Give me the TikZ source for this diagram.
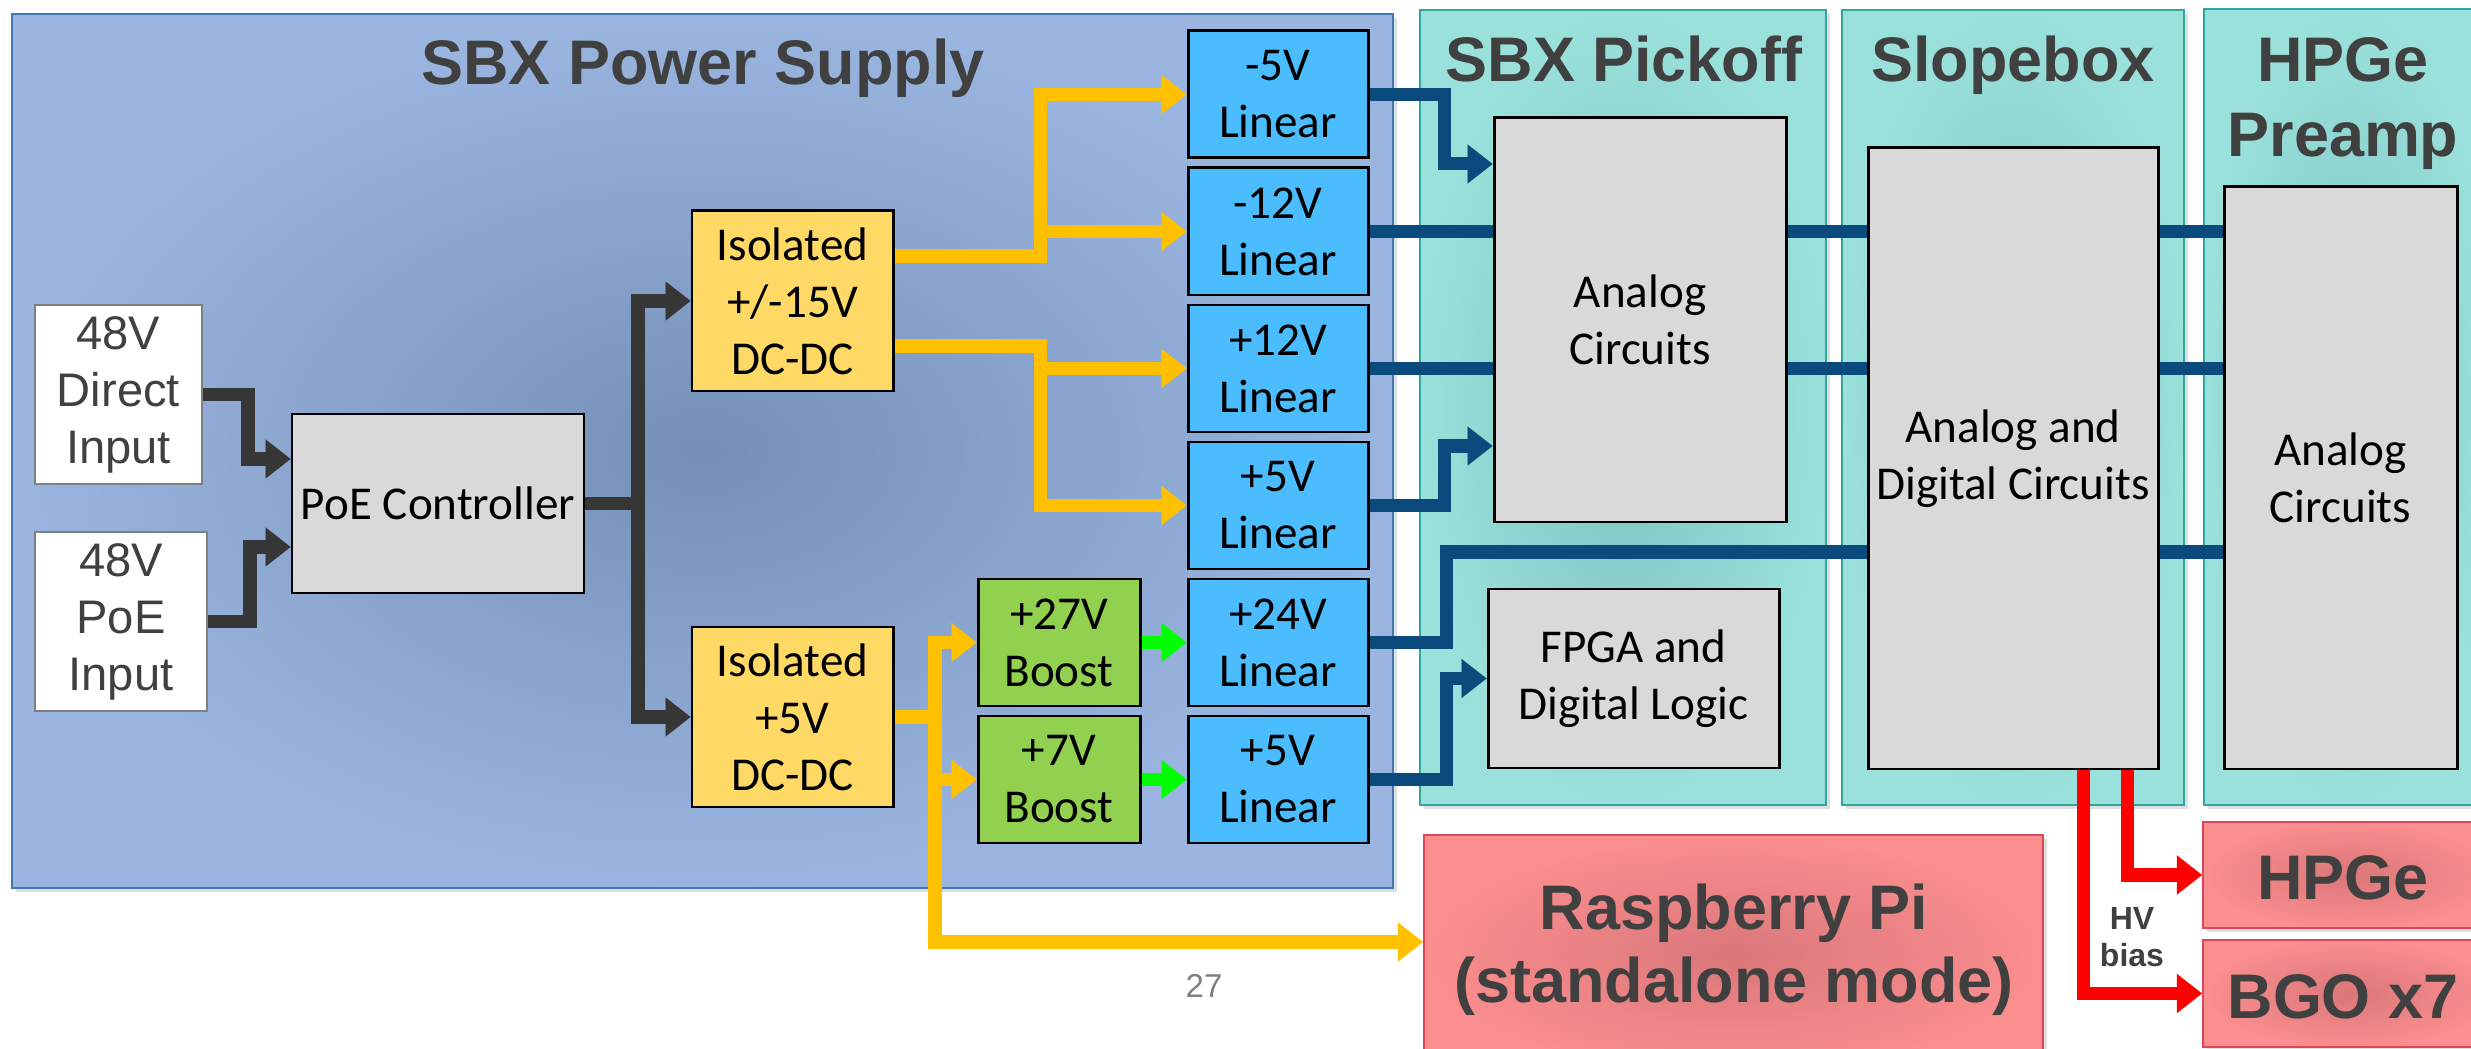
\documentclass[tikz,border=0pt]{standalone}
\usepackage{fontspec}
\setmainfont{Carlito}
\newfontfamily\headfont{Liberation Sans}
\usetikzlibrary{arrows.meta,fit,shadows}

\definecolor{inkgray}{HTML}{404040}
\definecolor{numgray}{HTML}{7F7F7F}
\definecolor{psin}{HTML}{7590B7}
\definecolor{psout}{HTML}{9AB6E0}
\definecolor{psline}{HTML}{3F78B3}
\definecolor{tlin}{HTML}{7CC3C0}
\definecolor{tlout}{HTML}{9AE0DB}
\definecolor{tlline}{HTML}{2FA7A0}
\definecolor{rdin}{HTML}{DA7779}
\definecolor{rdout}{HTML}{FB8E8F}
\definecolor{rdline}{HTML}{E0455A}
\definecolor{chipgray}{HTML}{D9D9D9}
\definecolor{dcyellow}{HTML}{FFD966}
\definecolor{boostgreen}{HTML}{92D050}
\definecolor{linblue}{HTML}{4BBDFF}
\definecolor{feedgray}{HTML}{363636}
\definecolor{railyellow}{HTML}{FFC000}
\definecolor{railgreen}{HTML}{00FF00}
\definecolor{railblue}{HTML}{0B4A7C}
\definecolor{hvred}{HTML}{FF0000}

\begin{document}
\begin{tikzpicture}[
  x=0.01cm, y=-0.01cm,
  panel/.style={inner sep=0pt, line width=0.6pt,
    drop shadow={shadow xshift=1.2pt, shadow yshift=-1.2pt, opacity=0.25}},
  pspanel/.style={panel, inner color=psin, outer color=psout, draw=psline},
  tlpanel/.style={panel, inner color=tlin, outer color=tlout, draw=tlline},
  rdpanel/.style={panel, inner color=rdin, outer color=rdout, draw=rdline},
  heading/.style={font=\headfont\bfseries\fontsize{17.9}{21.3}\selectfont,
    text=inkgray, inner sep=0pt, anchor=base},
  smallnote/.style={font=\headfont\bfseries\fontsize{9.1}{11}\selectfont,
    text=inkgray, inner sep=0pt, anchor=base},
  boxsize/.style 2 args={minimum width=#1*0.01cm, minimum height=#2*0.01cm},
  block/.style={draw=black, line width=0.85pt, inner sep=0pt, align=center,
    font=\fontsize{13.4}{16.2}\selectfont},
  inputbox/.style={block, fill=white, draw=numgray, text=inkgray,
    font=\headfont\fontsize{13.4}{16.2}\selectfont},
  ctlbox/.style={block, fill=chipgray},
  dcbox/.style={block, fill=dcyellow, boxsize={201}{180}},
  boostbox/.style={block, fill=boostgreen, boxsize={162}{127}},
  linbox/.style={block, fill=linblue, boxsize={180}{127}},
  wire/.style={line width=3.7pt},
  arrowed/.style={-{Triangle[length=7.1pt,width=11.1pt,line width=0.01pt]}},
  feed/.style={wire, draw=feedgray},
  yel/.style={wire, draw=railyellow},
  grn/.style={wire, draw=railgreen},
  blu/.style={wire, draw=railblue},
  hv/.style={wire, draw=hvred},
]
\useasboundingbox (0,0) rectangle (2471,1049);

% ---------- background panels ----------
\node[pspanel, fit={(12,14) (1393,888)}] (psu) {};
\node[tlpanel, fit={(1420,10) (1826,805)}] (pickoff) {};
\node[tlpanel, fit={(1842,10) (2184,805)}] (slopebox) {};
\node[tlpanel, fit={(2204,9) (2495,805)}] (preamp) {};
\node[rdpanel, fit={(1424,835) (2043,1075)}] (rpi) {};
\node[rdpanel, fit={(2203,822) (2495,928)}] (hpge) {};
\node[rdpanel, fit={(2203,940) (2495,1047)}] (bgo) {};

% ---------- headings ----------
\node[heading] (psutitle) at (703,85) {SBX Power Supply};
\node[heading] (picktitle) at (1624,82) {SBX Pickoff};
\node[heading] (slopetitle) at (2013,82) {Slopebox};
\node[heading] (preamptitleA) at (2343,82) {HPGe};
\node[heading] (preamptitleB) at (2343,157) {Preamp};
\node[heading] (rpititleA) at (1734,930) {Raspberry Pi};
\node[heading] (rpititleB) at (1734,1003) {(standalone mode)};
\node[heading] (hpgetext) at (2343,900) {HPGe};
\node[heading] (bgotext) at (2343,1018) {BGO x7};
\node[smallnote] (hvA) at (2132,930) {HV};
\node[smallnote] (hvB) at (2132,967) {bias};
\node[font=\headfont\fontsize{9.4}{11}\selectfont, text=numgray, inner sep=0pt,
      anchor=base] (pagenum) at (1204,998) {27};

% ---------- power supply blocks ----------
\node[inputbox, boxsize={167}{179}] (direct) at (118.5,394.5) {48V\\Direct\\Input};
\node[inputbox, boxsize={172}{179}] (poein) at (121,621.5) {48V\\PoE\\Input};
\node[ctlbox, boxsize={292}{179}] (poectl) at (438,503.5) {PoE Controller};
\node[dcbox] (iso15) at (792.5,301) {Isolated\\+/-15V\\DC-DC};
\node[dcbox] (iso5) at (792.5,717) {Isolated\\+5V\\DC-DC};
\node[boostbox] (boost27) at (1059,642.5) {+27V\\Boost};
\node[boostbox] (boost7) at (1059,779.5) {+7V\\Boost};

\node[linbox] (lin5n) at (1278,94.5) {-5V\\Linear};
\node[linbox] (lin12n) at (1278,231.5) {-12V\\Linear};
\node[linbox] (lin12p) at (1278,368.5) {+12V\\Linear};
\node[linbox] (lin5p) at (1278,505.5) {+5V\\Linear};
\node[linbox] (lin24) at (1278,642.5) {+24V\\Linear};
\node[linbox] (lin5b) at (1278,779.5) {+5V\\Linear};

% ---------- downstream blocks ----------
\node[ctlbox, boxsize={292}{404}] (analog) at (1640,320) {Analog\\Circuits};
\node[ctlbox, boxsize={291}{179}] (fpga) at (1633.5,678.5) {FPGA and\\Digital Logic};
\node[ctlbox, boxsize={290}{621}] (slopein) at (2013,458.5) {Analog and\\Digital Circuits};
\node[ctlbox, boxsize={233}{582}] (preampin) at (2340.5,478) {Analog\\Circuits};

% ---------- 48V feed ----------
\draw[feed, arrowed] (direct.east) -| (248,459) -- (poectl.west |- 248,459);
\draw[feed, arrowed] (poein.east) -| (250,547) -- (poectl.west |- 250,547);
\draw[feed, arrowed] (poectl.east) -| (638,301) -- (iso15.west);
\draw[feed, arrowed] (poectl.east) -| (638,717) -- (iso5.west);

% ---------- isolated rails ----------
\draw[yel, arrowed] (iso15.east |- 0,256) -| (1040,94.5) -- (lin5n.west);
\draw[yel, arrowed] (1040,256) |- (lin12n.west);
\draw[yel, arrowed] (iso15.east |- 0,346) -| (1040,505.5) -- (lin5p.west);
\draw[yel, arrowed] (1040,346) |- (lin12p.west);

\draw[yel, arrowed] (iso5.east) -| (935,642.5) -- (boost27.west);
\draw[yel, arrowed] (iso5.east) -| (935,779.5) -- (boost7.west);
\draw[yel, arrowed] (iso5.east) -| (935,942) -- (rpi.west |- 0,942);

% ---------- boosted rails ----------
\draw[grn, arrowed] (boost27.east) -- (lin24.west);
\draw[grn, arrowed] (boost7.east) -- (lin5b.west);

% ---------- regulated outputs ----------
\draw[blu, arrowed] (lin5n.east) -| (1444,164) -- (analog.west |- 0,164);
\draw[blu] (lin12n.east) -- (analog.west |- lin12n.east);
\draw[blu] (analog.east |- lin12n.east) -- (slopein.west |- lin12n.east);
\draw[blu] (slopein.east |- lin12n.east) -- (preampin.west |- lin12n.east);
\draw[blu] (lin12p.east) -- (analog.west |- lin12p.east);
\draw[blu] (analog.east |- lin12p.east) -- (slopein.west |- lin12p.east);
\draw[blu] (slopein.east |- lin12p.east) -- (preampin.west |- lin12p.east);
\draw[blu, arrowed] (lin5p.east) -| (1444,446) -- (analog.west |- 0,446);
\draw[blu] (lin24.east) -| (1446,552) -- (slopein.west |- 0,552);
\draw[blu] (slopein.east |- 0,552) -- (preampin.west |- 0,552);
\draw[blu, arrowed] (lin5b.east) -| (1446,678.5) -- (fpga.west);

% ---------- HV bias ----------
\draw[hv, arrowed] (slopein.south -| 2127,0) |- (hpge.west);
\draw[hv, arrowed] (slopein.south -| 2083,0) |- (bgo.west);
\end{tikzpicture}
\end{document}
